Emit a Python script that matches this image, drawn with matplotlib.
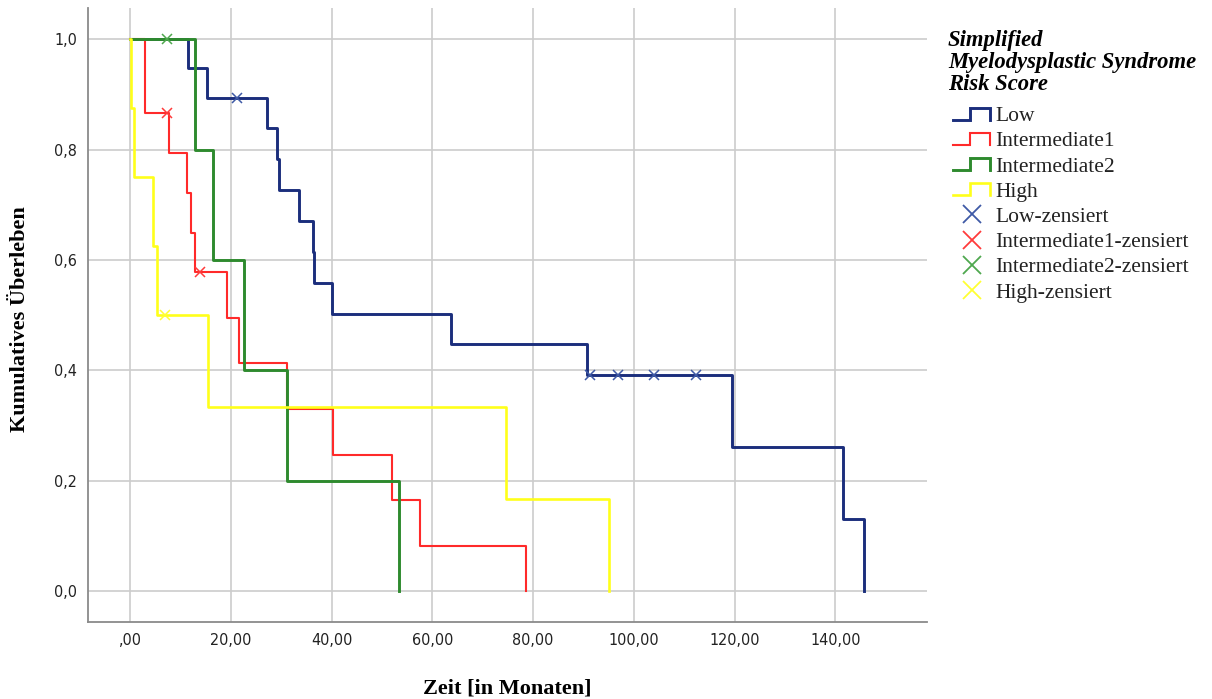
import numpy as np
import matplotlib
matplotlib.use("Agg")
import matplotlib.pyplot as plt
from matplotlib.lines import Line2D
from matplotlib.legend_handler import HandlerLine2D
from matplotlib.font_manager import FontProperties

# Kaplan-Meier Daten (Monate) je Risikogruppe
gruppen = ["Low", "Intermediate1", "Intermediate2", "High"]

low_ereignis = [11.6, 15.3, 27.1, 29.1, 29.5, 33.5, 36.3, 36.5, 40.0, 63.7,
                90.8, 119.5, 141.5, 145.7]
low_zensiert = [21.2, 91.3, 96.9, 104.1, 112.3]

int1_ereignis = [2.9, 3.0, 7.8, 11.3, 12.2, 12.9, 19.2, 21.7, 31.1, 40.2,
                 52.0, 57.6, 78.6]
int1_zensiert = [7.4, 13.9]

int2_ereignis = [12.9, 16.5, 22.7, 31.2, 53.3]
int2_zensiert = [7.3]

high_ereignis = [0.1, 0.8, 4.6, 5.4, 15.4, 74.6, 95.0]
high_zensiert = [6.9]

xticks = [0, 20, 40, 60, 80, 100, 120, 140]
xticklabels = [",00", "20,00", "40,00", "60,00", "80,00", "100,00", "120,00", "140,00"]
yticks = [0.0, 0.2, 0.4, 0.6, 0.8, 1.0]
yticklabels = ["0,0", "0,2", "0,4", "0,6", "0,8", "1,0"]

farben = ["#1b2e7c", "#ff2a2a", "#2e8a2e", "#ffff1a"]
farben_zensiert = ["#3f5aa6", "#ff3b3b", "#4fa84f", "#ffff33"]
linienbreite = [2.1, 1.5, 2.1, 1.9]


def kaplan_meier(ereignis, zensiert):
    zeiten = sorted(set(ereignis) | set(zensiert))
    n = len(ereignis) + len(zensiert)
    s = 1.0
    xs, ys, cx, cy = [0.0], [1.0], [], []
    for t in zeiten:
        d = ereignis.count(t)
        c = zensiert.count(t)
        if d:
            s *= (n - d) / n
            xs.append(t)
            ys.append(s)
        if c:
            cx.append(t)
            cy.append(s)
        n -= d + c
    return xs, ys, cx, cy


class HandlerStufe(HandlerLine2D):
    # Legendensymbol als kleine Treppe
    def create_artists(self, legend, orig_handle, xdescent, ydescent,
                       width, height, fontsize, trans):
        x0 = -xdescent
        y0 = -ydescent + 0.1 * height
        y1 = -ydescent + 0.9 * height
        xm = x0 + 0.45 * width
        line = Line2D([x0, xm, xm, x0 + width, x0 + width],
                      [y0, y0, y1, y1, y0],
                      color=orig_handle.get_color(),
                      lw=orig_handle.get_linewidth(),
                      solid_joinstyle="miter")
        line.set_transform(trans)
        return [line]


daten = [(low_ereignis, low_zensiert), (int1_ereignis, int1_zensiert),
         (int2_ereignis, int2_zensiert), (high_ereignis, high_zensiert)]

fig = plt.figure(figsize=(12.12, 6.99), dpi=100)
ax = fig.add_axes([0.0726, 0.110, 0.6923, 0.8786])

handles_kurve = []
handles_zens = []
for i, (ev, ce) in enumerate(daten):
    xs, ys, cx, cy = kaplan_meier(ev, ce)
    h, = ax.plot(xs, ys, drawstyle="steps-post", color=farben[i],
                 lw=linienbreite[i], zorder=3 + i)
    ax.plot(cx, cy, ls="none", marker="x", ms=7, mew=1.1,
            color=farben_zensiert[i], zorder=8)
    handles_kurve.append(h)
    handles_zens.append(Line2D([], [], ls="none", marker="x", ms=13, mew=1.3,
                               color=farben_zensiert[i]))

ax.set_xlim(-8.34, 158.2)
ax.set_ylim(-0.056, 1.057)
ax.set_xticks(xticks)
ax.set_xticklabels(xticklabels)
ax.set_yticks(yticks)
ax.set_yticklabels(yticklabels)
tickfont = FontProperties(family="DejaVu Sans", stretch="condensed", size=11.5)
for lab in ax.get_xticklabels() + ax.get_yticklabels():
    lab.set_fontproperties(tickfont)
    lab.set_color("#222222")
ax.tick_params(length=0, pad=8)
ax.grid(True, color="#cccccc", lw=1.2, zorder=0)
ax.set_axisbelow(True)
for sp in ["top", "right"]:
    ax.spines[sp].set_visible(False)
for sp in ["left", "bottom"]:
    ax.spines[sp].set_color("#8a8a8a")
    ax.spines[sp].set_linewidth(1.3)

labfont = dict(family="Liberation Serif", weight="bold", size=16)
fig.text(507 / 1212, 1 - 688 / 699, "Zeit [in Monaten]", ha="center", va="center", **labfont)
fig.text(20 / 1212, 1 - 319 / 699, "Kumulatives Überleben", rotation=90,
         ha="center", va="center", **labfont)

# Legendentitel separat, damit Abstand und Zeilenhöhe passen
fig.text(948 / 1212, 1 - 30 / 699, "Simplified\nMyelodysplastic Syndrome\nRisk Score",
         ha="left", va="top", family="Liberation Serif", weight="bold",
         style="italic", size=16.3, linespacing=1.05)

namen = gruppen + [g + "-zensiert" for g in gruppen]
leg = fig.legend(handles_kurve + handles_zens, namen,
                 handler_map={h: HandlerStufe() for h in handles_kurve},
                 loc="upper left", bbox_to_anchor=(953 / 1212, 1 - 106 / 699),
                 frameon=False, borderpad=0, borderaxespad=0,
                 handlelength=1.72, handletextpad=0.23, labelspacing=0.24,
                 prop=FontProperties(family="Liberation Serif", size=15.5))
for t in leg.get_texts():
    t.set_color("#222222")

fig.savefig("out.png", dpi=100)
